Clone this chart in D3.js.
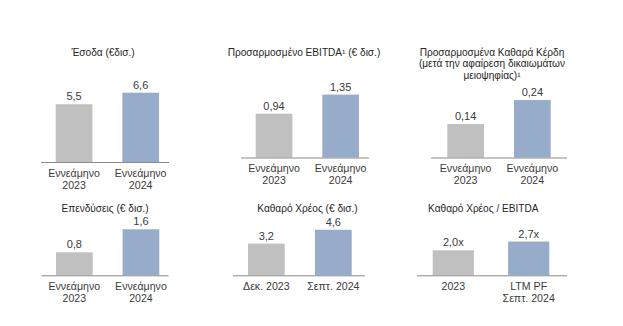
<!DOCTYPE html>
<html><head><meta charset="utf-8">
<script src="https://cdn.jsdelivr.net/npm/d3@7"></script>
<style>
html,body{margin:0;padding:0;background:#fff;}
svg text{font-family:"Liberation Sans Narrow","Liberation Sans",Arial,sans-serif;}
</style></head>
<body><svg id="c" width="623" height="326"></svg>
<script>
// ---- data ----
const titles = [
  ["Έσοδα (€δισ.)"],
  ["Προσαρμοσμένο EBITDA¹ (€ δισ.)"],
  ["Προσαρμοσμένα Καθαρά Κέρδη", "(μετά την αφαίρεση δικαιωμάτων", "μειοψηφίας)¹"],
  ["Επενδύσεις (€ δισ.)"],
  ["Καθαρό Χρέος (€ δισ.)"],
  ["Καθαρό Χρέος / EBITDA"]
];
const categories = [
  ["Εννεάμηνο|2023", "Εννεάμηνο|2024"],
  ["Εννεάμηνο|2023", "Εννεάμηνο|2024"],
  ["Εννεάμηνο|2023", "Εννεάμηνο|2024"],
  ["Εννεάμηνο|2023", "Εννεάμηνο|2024"],
  ["Δεκ. 2023", "Σεπτ. 2024"],
  ["2023", "LTM PF|Σεπτ. 2024"]
];
const values = [
  [5.5, 6.6],
  [0.94, 1.35],
  [0.14, 0.24],
  [0.8, 1.6],
  [3.2, 4.6],
  [2.0, 2.7]
];
const valueLabels = [
  ["5,5", "6,6"],
  ["0,94", "1,35"],
  ["0,14", "0,24"],
  ["0,8", "1,6"],
  ["3,2", "4,6"],
  ["2,0x", "2,7x"]
];
const yMaxDomain = [7, 1.5, 0.3, 2, 5, 3];

// ---- layout (positions / styles) ----
const layout = [
  {ax0: 41, ax1: 169, bx0: 55.7, bx1: 159,   base: 162,   top: 88.5, tx: 103,  ty: 55.5},
  {ax0: 241, ax1: 369, bx0: 255.7, bx1: 359, base: 157.5, top: 87.6, tx: 304,  ty: 55.5},
  {ax0: 431, ax1: 567, bx0: 447.3, bx1: 550.7, base: 157.5, top: 85.7, tx: 492, ty: 55.5},
  {ax0: 41.5, ax1: 168.5, bx0: 56, bx1: 159.3, base: 275.3, top: 217.8, tx: 105, ty: 211.5},
  {ax0: 233, ax1: 365, bx0: 248, bx1: 351.7, base: 275.3, top: 225.8, tx: 307.5, ty: 211.5},
  {ax0: 417, ax1: 567, bx0: 432.7, bx1: 549.3, base: 275.3, top: 237.8, tx: 483.3, ty: 211.5}
];
const colors = ["#c0c0c0", "#97abca"];
const textColor = "#3b3b3b";
const titleColor = "#262626";

const svg = d3.select("#c");

layout.forEach((L, i) => {
  const g = svg.append("g");
  const cats = categories[i];
  const barW = i === 5 ? 41.2 : 36.7;
  const span = L.bx1 - L.bx0;
  // scaleBand: bandwidth = span*(1-p)/(2-p) = barW  => p = (span - 2*barW)/(span - barW)
  const p = (span - 2 * barW) / (span - barW);
  const x = d3.scaleBand().domain(cats).range([L.bx0, L.bx1]).paddingInner(p).paddingOuter(0);
  const y = d3.scaleLinear().domain([0, yMaxDomain[i]]).range([L.base, L.top]);

  // title
  const t = g.append("text")
    .attr("x", L.tx).attr("y", L.ty)
    .attr("text-anchor", "middle")
    .attr("font-size", 10.1)
    .attr("fill", titleColor);
  titles[i].forEach((line, k) => {
    t.append("tspan").attr("x", L.tx).attr("dy", k === 0 ? 0 : 11.6).text(line);
  });

  // bars
  g.selectAll("rect").data(values[i]).enter().append("rect")
    .attr("x", (d, k) => x(cats[k]))
    .attr("width", x.bandwidth())
    .attr("y", d => y(d))
    .attr("height", d => L.base - y(d))
    .attr("fill", (d, k) => colors[k]);

  // value labels
  g.selectAll("text.val").data(values[i]).enter().append("text")
    .attr("class", "val")
    .attr("x", (d, k) => x(cats[k]) + x.bandwidth() / 2)
    .attr("y", d => y(d) - 4)
    .attr("text-anchor", "middle")
    .attr("font-size", 11)
    .attr("fill", textColor)
    .text((d, k) => valueLabels[i][k]);

  // axis line
  g.append("line")
    .attr("x1", L.ax0).attr("x2", L.ax1)
    .attr("y1", L.base + 0.5).attr("y2", L.base + 0.5)
    .attr("stroke", "#8a8a8a").attr("stroke-width", 1);

  // category labels
  cats.forEach(c => {
    const cx = x(c) + x.bandwidth() / 2;
    const lt = g.append("text")
      .attr("x", cx)
      .attr("y", L.base + 14.5)
      .attr("text-anchor", "middle")
      .attr("font-size", 10.6)
      .attr("fill", textColor);
    c.split("|").forEach((line, k) => {
      lt.append("tspan").attr("x", cx).attr("dy", k === 0 ? 0 : 12).text(line);
    });
  });
});
</script></body></html>
